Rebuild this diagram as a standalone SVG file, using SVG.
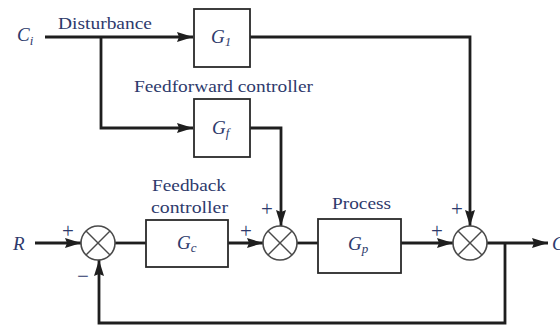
<svg xmlns="http://www.w3.org/2000/svg" width="560" height="326" viewBox="0 0 560 326">
  <defs>
    <marker id="arrow" markerUnits="userSpaceOnUse" markerWidth="17" markerHeight="11" refX="16" refY="5" orient="auto">
      <path d="M0,0 L16,5 L0,10 L2,5 z" fill="#1e1e1e"/>
    </marker>
    <style>
      .box { fill: #ffffff; stroke: #2a2a2a; stroke-width: 1.8; }
      .sum circle { fill: #ffffff; stroke: #4a4a4a; stroke-width: 1.6; }
      .sum line { stroke: #4a4a4a; stroke-width: 1.4; }
      .wire { fill: none; stroke: #1e1e1e; stroke-width: 2.8; stroke-linejoin: miter; }
      .lbl { font-size: 17.5px; fill: #2e3a6c; }
      .sym { font-style: italic; font-size: 19px; fill: #2e3a6c; }
      .sub { font-size: 13px; }
      .sign { font-size: 21px; text-anchor: middle; fill: #2e3a6c; }
    </style>
  </defs>

  <rect width="560" height="326" fill="#ffffff"/>

  <!-- signal wiring -->
  <g id="connectors">
    <path class="wire" d="M45,37 H193" marker-end="url(#arrow)"/>
    <path class="wire" d="M101,37 V128 H193" marker-end="url(#arrow)"/>
    <path class="wire" d="M250,37 H470 V226" marker-end="url(#arrow)"/>
    <path class="wire" d="M250,128 H281 V226" marker-end="url(#arrow)"/>
    <path class="wire" d="M35,243 H81" marker-end="url(#arrow)"/>
    <path class="wire" d="M115,243 H146"/>
    <path class="wire" d="M228,243 H263" marker-end="url(#arrow)"/>
    <path class="wire" d="M297,243 H318"/>
    <path class="wire" d="M401,243 H453" marker-end="url(#arrow)"/>
    <path class="wire" d="M487,243 H548" marker-end="url(#arrow)"/>
    <path class="wire" d="M505,243 V323 H99 V260" marker-end="url(#arrow)"/>
  </g>

  <g font-family="Liberation Serif, Times New Roman, serif">
    <!-- signal names -->
    <g id="input-ci">
      <text class="sym" x="17" y="41">C<tspan class="sub" dy="4">i</tspan></text>
      <text class="lbl" x="58" y="29" textLength="94" lengthAdjust="spacingAndGlyphs">Disturbance</text>
    </g>
    <g id="input-r">
      <text class="sym" x="13" y="250">R</text>
    </g>
    <g id="output-c">
      <text class="sym" x="552" y="250">C</text>
    </g>

    <!-- blocks -->
    <g id="block-g1">
      <rect class="box" x="194" y="9" width="56" height="58"/>
      <text class="sym" x="211" y="43">G<tspan class="sub" dy="3">1</tspan></text>
    </g>
    <g id="block-gf">
      <text class="lbl" x="134" y="92" textLength="179" lengthAdjust="spacingAndGlyphs">Feedforward controller</text>
      <rect class="box" x="194" y="99" width="56" height="58"/>
      <text class="sym" x="212" y="134">G<tspan class="sub" dy="3">f</tspan></text>
    </g>
    <g id="block-gc">
      <text class="lbl" x="152" y="191" textLength="74" lengthAdjust="spacingAndGlyphs">Feedback</text>
      <text class="lbl" x="151" y="213" textLength="77" lengthAdjust="spacingAndGlyphs">controller</text>
      <rect class="box" x="146" y="220" width="82" height="47"/>
      <text class="sym" x="177" y="249">G<tspan class="sub" dy="3">c</tspan></text>
    </g>
    <g id="block-gp">
      <text class="lbl" x="332" y="209" textLength="59" lengthAdjust="spacingAndGlyphs">Process</text>
      <rect class="box" x="318" y="219" width="83" height="54"/>
      <text class="sym" x="348" y="250">G<tspan class="sub" dy="3">p</tspan></text>
    </g>

    <!-- summing junctions -->
    <g id="sum-1" class="sum">
      <circle cx="98" cy="243" r="17"/>
      <line x1="86" y1="231" x2="110" y2="255"/>
      <line x1="110" y1="231" x2="86" y2="255"/>
      <text class="sign" x="68" y="238">+</text>
      <text class="sign" x="83" y="283">−</text>
    </g>
    <g id="sum-2" class="sum">
      <circle cx="280" cy="243" r="17"/>
      <line x1="268" y1="231" x2="292" y2="255"/>
      <line x1="292" y1="231" x2="268" y2="255"/>
      <text class="sign" x="246" y="238">+</text>
      <text class="sign" x="267" y="216">+</text>
    </g>
    <g id="sum-3" class="sum">
      <circle cx="470" cy="243" r="17"/>
      <line x1="458" y1="231" x2="482" y2="255"/>
      <line x1="482" y1="231" x2="458" y2="255"/>
      <text class="sign" x="437" y="238">+</text>
      <text class="sign" x="457" y="216">+</text>
    </g>
  </g>
</svg>
